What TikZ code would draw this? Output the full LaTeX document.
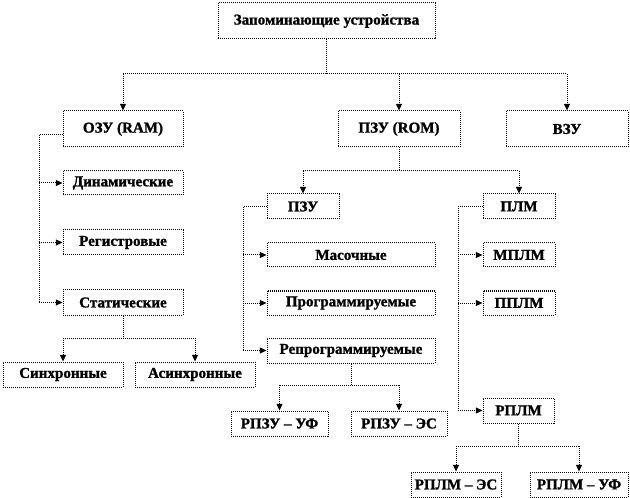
\documentclass[tikz,border=0pt]{standalone}
\usepackage{fontspec}
\setmainfont{Liberation Serif}[BoldFeatures={FakeBold=1.2}]
\usetikzlibrary{arrows.meta}
\tikzset{
  box/.style={draw=black, line width=0.75pt, dash pattern=on 0.75pt off 0.75pt, inner sep=0pt, align=center, font=\bfseries\fontsize{11.3pt}{13pt}\selectfont},
  conn/.style={draw=black, line width=0.75pt, dash pattern=on 0.75pt off 0.75pt},
  arr/.style={conn, -{Triangle[length=5pt,width=4.5pt]}}
}
\begin{document}
\begin{tikzpicture}[x=0.75pt,y=-0.75pt]
\useasboundingbox (0,0) rectangle (630,498);
% boxes
\node[box, minimum width=162.75pt, minimum height=27pt] (top) at (326.5,21) {Запоминающие устройства};
\node[box, minimum width=90pt, minimum height=27pt] (ozu) at (123,129) {ОЗУ (RAM)};
\node[box, minimum width=91.5pt, minimum height=27pt] (rom) at (399,129) {ПЗУ (ROM)};
\node[box, minimum width=91.5pt, minimum height=27pt] (vzu) at (567,129) {ВЗУ};
\node[box, minimum width=90pt, minimum height=18pt] (din) at (123,183) {Динамические};
\node[box, minimum width=90pt, minimum height=18.75pt] (reg) at (123,242.5) {Регистровые};
\node[box, minimum width=90pt, minimum height=18.75pt] (stat) at (123,302.5) {Статические};
\node[box, minimum width=90pt, minimum height=18.75pt] (sinh) at (63,374.5) {Синхронные};
\node[box, minimum width=90pt, minimum height=18.75pt] (asinh) at (195,374.5) {Асинхронные};
\node[box, minimum width=54pt, minimum height=18.75pt] (pzu) at (303,206.5) {ПЗУ};
\node[box, minimum width=126pt, minimum height=18pt] (mask) at (351,255) {Масочные};
\node[box, minimum width=126pt, minimum height=18pt] (prog) at (351,303) {Программируемые};
\node[box, minimum width=126pt, minimum height=18.75pt] (reprog) at (351,350.5) {Репрограммируемые};
\node[box, minimum width=54pt, minimum height=18.75pt] (plm) at (519,206.5) {ПЛМ};
\node[box, minimum width=54pt, minimum height=18pt] (mplm) at (519,255) {МПЛМ};
\node[box, minimum width=54pt, minimum height=18pt] (pplm) at (519,303) {ППЛМ};
\node[box, minimum width=72.75pt, minimum height=18.75pt] (rpzuuf) at (279.5,423.5) {РПЗУ – УФ};
\node[box, minimum width=72pt, minimum height=18.75pt] (rpzues) at (399,423.5) {РПЗУ – ЭС};
\node[box, minimum width=53.25pt, minimum height=18.75pt] (rplm) at (518.5,410.5) {РПЛМ};
\node[box, minimum width=67.5pt, minimum height=18.75pt] (rplmes) at (456,484.5) {РПЛМ – ЭС};
\node[box, minimum width=73.5pt, minimum height=18.75pt] (rplmuf) at (579,484.5) {РПЛМ – УФ};
% junction coordinates
\coordinate (j0) at (326.5,74);
\coordinate (j1) at (123,74);
\coordinate (j2) at (567,74);
\coordinate (ozuw) at (63,135);
\coordinate (lb) at (39,135);
\coordinate (lbe) at (39,302.5);
\coordinate (js) at (123,338);
\coordinate (jr) at (399,171);
\coordinate (pzub) at (243,206.5);
\coordinate (pzube) at (243,350.5);
\coordinate (jrp) at (351,385);
\coordinate (plmb) at (458,206.5);
\coordinate (plmbe) at (458,410.5);
\coordinate (jrl) at (518.5,446);
% connectors
\draw[conn] (top.south) -- (j0);
\draw[conn] (j1) -- (j2);
\draw[arr] (j1) -- (ozu.north);
\draw[arr] (rom.north |- j0) -- (rom.north);
\draw[arr] (j2) -- (vzu.north);
\draw[conn] (ozuw) -- (lb) -- (lbe);
\draw[arr] (lb |- din.west) -- (din.west);
\draw[arr] (lb |- reg.west) -- (reg.west);
\draw[arr] (lbe) -- (stat.west);
\draw[conn] (stat.south) -- (js);
\draw[conn] (sinh.north |- js) -- (asinh.north |- js);
\draw[arr] (sinh.north |- js) -- (sinh.north);
\draw[arr] (asinh.north |- js) -- (asinh.north);
\draw[conn] (rom.south) -- (jr);
\draw[conn] (pzu.north |- jr) -- (plm.north |- jr);
\draw[arr] (pzu.north |- jr) -- (pzu.north);
\draw[arr] (plm.north |- jr) -- (plm.north);
\draw[conn] (pzu.west) -- (pzub) -- (pzube);
\draw[arr] (pzub |- mask.west) -- (mask.west);
\draw[arr] (pzub |- prog.west) -- (prog.west);
\draw[arr] (pzube) -- (reprog.west);
\draw[conn] (reprog.south) -- (jrp);
\draw[conn] (rpzuuf.north |- jrp) -- (rpzues.north |- jrp);
\draw[arr] (rpzuuf.north |- jrp) -- (rpzuuf.north);
\draw[arr] (rpzues.north |- jrp) -- (rpzues.north);
\draw[conn] (plm.west) -- (plmb) -- (plmbe);
\draw[arr] (plmb |- mplm.west) -- (mplm.west);
\draw[arr] (plmb |- pplm.west) -- (pplm.west);
\draw[arr] (plmbe) -- (rplm.west);
\draw[conn] (rplm.south) -- (jrl);
\draw[conn] (rplmes.north |- jrl) -- (rplmuf.north |- jrl);
\draw[arr] (rplmes.north |- jrl) -- (rplmes.north);
\draw[arr] (rplmuf.north |- jrl) -- (rplmuf.north);
\end{tikzpicture}
\end{document}
